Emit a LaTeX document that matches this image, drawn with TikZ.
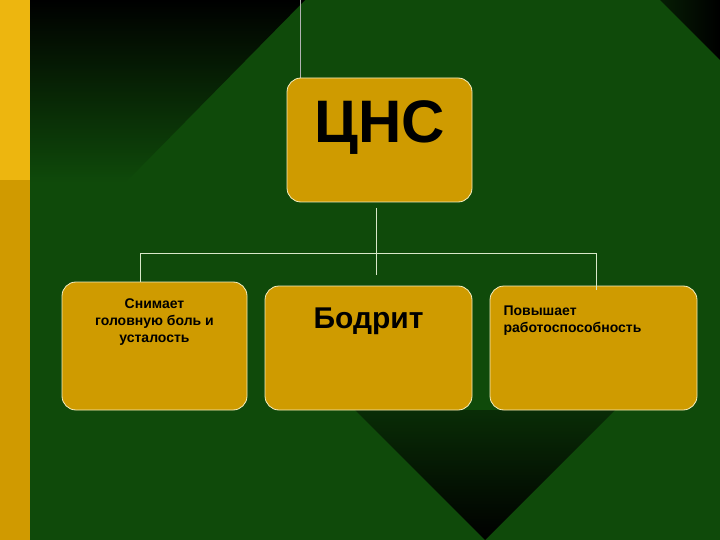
\documentclass[tikz,border=0pt]{standalone}
\usepackage{fontspec}
\setmainfont{Liberation Sans}
\begin{document}
\begin{tikzpicture}[x=1pt,y=-1pt,
  box/.style={draw=boxline,line width=0.8pt,fill=boxfill,rounded corners=14pt},
  conn/.style={draw=connline,line width=0.8pt}]
\definecolor{bg}{HTML}{0F4A0A}
\definecolor{boxfill}{HTML}{CF9B00}
\definecolor{boxline}{HTML}{F4EDC0}
\definecolor{connline}{HTML}{D8E8C8}
\definecolor{goldA}{HTML}{EDB60F}
\definecolor{goldB}{HTML}{D09A00}
\useasboundingbox (0,0) rectangle (720,540);
\fill[bg] (0,0) rectangle (720,540);
\shade[top color=black,bottom color=bg] (30,0) -- (305,0) -- (125,183) -- (30,183) -- cycle;
\shade[top color=bg!60!black,bottom color=black] (355,410) -- (615,410) -- (485,540) -- cycle;
\shade[left color=bg!40!black,right color=black] (660,0) -- (720,0) -- (720,60) -- cycle;
\fill[goldA] (0,0) rectangle (30,180);
\fill[goldB] (0,180) rectangle (30,540);
\draw[gray!60,line width=0.5pt] (300,0) -- (300,79);
\path[box] (287,78) rectangle (472,202);
\node[font=\bfseries\fontsize{60}{60}\selectfont,text=black] (c) at (379.5,128) {ЦНС};
\path[box] (62,282) rectangle (247,410);
\node[align=center,font=\bfseries\fontsize{14}{17}\selectfont] (l) at (154.5,322) {Снимает\\головную боль и\\усталость};
\path[box] (265,286) rectangle (472,410);
\node[font=\bfseries\fontsize{30}{30}\selectfont] (m) at (368.5,321) {Бодрит};
\path[box] (490,286) rectangle (697,410);
\node[align=left,anchor=west,font=\bfseries\fontsize{14}{17}\selectfont] (r) at (500,321) {Повышает\\работоспособность};
\coordinate (ct) at (376,208);
\coordinate (cb) at (376,275);
\coordinate (hl) at (140,253);
\coordinate (hr) at (596,253);
\coordinate (lt) at (140,282);
\coordinate (rt) at (596,290);
\draw[conn] (ct) -- (cb);
\draw[conn] (lt) -- (hl) -- (hr) -- (rt);
\end{tikzpicture}
\end{document}
